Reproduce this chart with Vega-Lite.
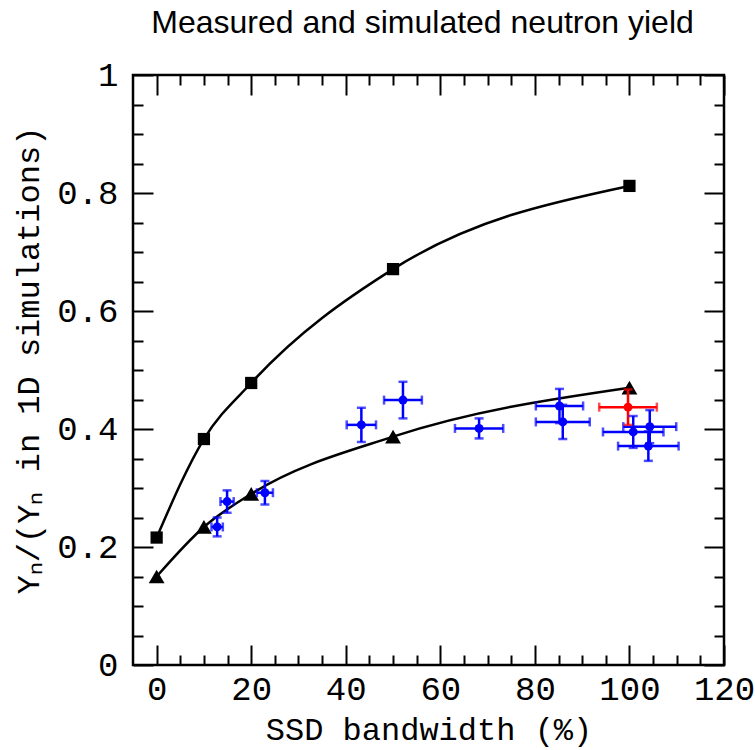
{
  "$schema": "https://vega.github.io/schema/vega-lite/v6.json",
  "width": 591,
  "height": 590,
  "autosize": {"type": "none"},
  "padding": {"left": 133, "top": 75, "right": 31, "bottom": 85},
  "title": {"text": "Measured and simulated neutron yield", "font": "Liberation Sans", "fontSize": 32, "fontWeight": "normal", "color": "black", "anchor": "middle", "offset": 18, "dx": -6},
  "config": {
    "view": {"stroke": "black", "strokeWidth": 2.5},
    "axis": {"domain": false, "grid": false, "tickColor": "black", "tickWidth": 2, "labelColor": "black", "labelFont": "Liberation Mono", "labelFontSize": 34, "titleFont": "Liberation Mono", "titleFontSize": 32, "titleFontWeight": "normal", "titleColor": "black", "labelFlush": false, "labelOverlap": false}
  },
  "datasets": {
    "sims": [
      {"model": "sq", "x": 0, "y": 0.216},
      {"model": "sq", "x": 10, "y": 0.383},
      {"model": "sq", "x": 20, "y": 0.478},
      {"model": "sq", "x": 50, "y": 0.671},
      {"model": "sq", "x": 100, "y": 0.812},
      {"model": "tri", "x": 0, "y": 0.150},
      {"model": "tri", "x": 10, "y": 0.234},
      {"model": "tri", "x": 20, "y": 0.290},
      {"model": "tri", "x": 50, "y": 0.387},
      {"model": "tri", "x": 100, "y": 0.470}
    ],
    "meas": [
      {"series": "blue", "x": 12.8, "y": 0.234, "xlo": 11.6, "xhi": 14.0, "ylo": 0.218, "yhi": 0.250},
      {"series": "blue", "x": 14.9, "y": 0.277, "xlo": 13.5, "xhi": 16.3, "ylo": 0.258, "yhi": 0.296},
      {"series": "blue", "x": 22.9, "y": 0.292, "xlo": 21.2, "xhi": 24.6, "ylo": 0.272, "yhi": 0.312},
      {"series": "blue", "x": 43.3, "y": 0.407, "xlo": 40.2, "xhi": 46.4, "ylo": 0.378, "yhi": 0.436},
      {"series": "blue", "x": 52.1, "y": 0.449, "xlo": 48.1, "xhi": 56.1, "ylo": 0.418, "yhi": 0.480},
      {"series": "blue", "x": 68.2, "y": 0.401, "xlo": 63.1, "xhi": 73.3, "ylo": 0.384, "yhi": 0.418},
      {"series": "blue", "x": 85.2, "y": 0.439, "xlo": 80.2, "xhi": 90.2, "ylo": 0.410, "yhi": 0.468},
      {"series": "blue", "x": 85.9, "y": 0.412, "xlo": 80.2, "xhi": 91.6, "ylo": 0.383, "yhi": 0.441},
      {"series": "blue", "x": 100.8, "y": 0.395, "xlo": 94.4, "xhi": 107.2, "ylo": 0.368, "yhi": 0.422},
      {"series": "blue", "x": 104.3, "y": 0.404, "xlo": 98.7, "xhi": 109.9, "ylo": 0.376, "yhi": 0.432},
      {"series": "blue", "x": 104.0, "y": 0.371, "xlo": 97.6, "xhi": 110.4, "ylo": 0.346, "yhi": 0.396},
      {"series": "red", "x": 99.7, "y": 0.437, "xlo": 93.6, "xhi": 105.8, "ylo": 0.407, "yhi": 0.467}
    ]
  },
  "resolve": {"axis": {"x": "independent", "y": "independent"}},
  "layer": [
    {
      "data": {"name": "sims"},
      "mark": {"type": "line", "interpolate": "monotone", "color": "black", "strokeWidth": 2.5},
      "encoding": {
        "x": {"field": "x", "type": "quantitative", "scale": {"domain": [-5, 120], "nice": false, "zero": false},
          "axis": {"orient": "bottom", "title": "SSD bandwidth (%)", "values": [0,5,10,15,20,25,30,35,40,45,50,55,60,65,70,75,80,85,90,95,100,105,110,115,120],
            "labelExpr": "datum.value % 20 === 0 ? datum.label : ''",
            "tickSize": {"condition": {"test": "datum.value % 20 === 0", "value": -20}, "value": -10},
            "labelPadding": 27, "titlePadding": -2}},
        "y": {"field": "y", "type": "quantitative", "scale": {"domain": [0, 1], "nice": false, "zero": false},
          "axis": {"orient": "left", "title": "Yₙ/(Yₙ in 1D simulations)", "values": [0,0.05,0.1,0.15,0.2,0.25,0.3,0.35,0.4,0.45,0.5,0.55,0.6,0.65,0.7,0.75,0.8,0.85,0.9,0.95,1],
            "labelExpr": "round(datum.value*100) % 20 === 0 ? (round(datum.value*10)/10 + '') : ''",
            "tickSize": {"condition": {"test": "round(datum.value*100) % 20 === 0", "value": -20}, "value": -10},
            "labelPadding": 35, "titlePadding": 11, "titleY": 285}},
        "detail": {"field": "model"}
      }
    },
    {
      "data": {"name": "sims"},
      "mark": {"type": "point", "filled": true, "opacity": 1, "color": "black"},
      "encoding": {
        "x": {"field": "x", "type": "quantitative", "scale": {"domain": [-5, 120], "nice": false, "zero": false},
          "axis": {"orient": "top", "title": null, "labels": false, "values": [0,5,10,15,20,25,30,35,40,45,50,55,60,65,70,75,80,85,90,95,100,105,110,115,120],
            "tickSize": {"condition": {"test": "datum.value % 20 === 0", "value": -20}, "value": -10}}},
        "y": {"field": "y", "type": "quantitative", "scale": {"domain": [0, 1], "nice": false, "zero": false},
          "axis": {"orient": "right", "title": null, "labels": false, "values": [0,0.05,0.1,0.15,0.2,0.25,0.3,0.35,0.4,0.45,0.5,0.55,0.6,0.65,0.7,0.75,0.8,0.85,0.9,0.95,1],
            "tickSize": {"condition": {"test": "round(datum.value*100) % 20 === 0", "value": -20}, "value": -10}}},
        "shape": {"field": "model", "type": "nominal", "scale": {"domain": ["sq", "tri"], "range": ["square", "triangle-up"]}, "legend": null},
        "size": {"field": "model", "type": "ordinal", "scale": {"domain": ["sq", "tri"], "range": [150, 250]}, "legend": null}
      }
    },
    {
      "data": {"name": "meas"},
      "mark": {"type": "rule", "strokeWidth": 2.5},
      "encoding": {
        "x": {"field": "xlo", "type": "quantitative", "scale": {"domain": [-5, 120], "nice": false, "zero": false}, "axis": null},
        "x2": {"field": "xhi"},
        "y": {"field": "y", "type": "quantitative", "scale": {"domain": [0, 1], "nice": false, "zero": false}, "axis": null},
        "color": {"field": "series", "type": "nominal", "scale": {"domain": ["blue", "red"], "range": ["#0000ff", "#ff0000"]}, "legend": null}
      }
    },
    {
      "data": {"name": "meas"},
      "mark": {"type": "rule", "strokeWidth": 2.5},
      "encoding": {
        "x": {"field": "x", "type": "quantitative", "scale": {"domain": [-5, 120], "nice": false, "zero": false}, "axis": null},
        "y": {"field": "ylo", "type": "quantitative", "scale": {"domain": [0, 1], "nice": false, "zero": false}, "axis": null},
        "y2": {"field": "yhi"},
        "color": {"field": "series", "type": "nominal", "scale": {"domain": ["blue", "red"], "range": ["#0000ff", "#ff0000"]}, "legend": null}
      }
    },
    {
      "data": {"name": "meas"},
      "mark": {"type": "tick", "orient": "vertical", "size": 9, "thickness": 2.5},
      "encoding": {
        "x": {"field": "xlo", "type": "quantitative", "scale": {"domain": [-5, 120], "nice": false, "zero": false}, "axis": null},
        "y": {"field": "y", "type": "quantitative", "scale": {"domain": [0, 1], "nice": false, "zero": false}, "axis": null},
        "color": {"field": "series", "type": "nominal", "scale": {"domain": ["blue", "red"], "range": ["#0000ff", "#ff0000"]}, "legend": null}
      }
    },
    {
      "data": {"name": "meas"},
      "mark": {"type": "tick", "orient": "vertical", "size": 9, "thickness": 2.5},
      "encoding": {
        "x": {"field": "xhi", "type": "quantitative", "scale": {"domain": [-5, 120], "nice": false, "zero": false}, "axis": null},
        "y": {"field": "y", "type": "quantitative", "scale": {"domain": [0, 1], "nice": false, "zero": false}, "axis": null},
        "color": {"field": "series", "type": "nominal", "scale": {"domain": ["blue", "red"], "range": ["#0000ff", "#ff0000"]}, "legend": null}
      }
    },
    {
      "data": {"name": "meas"},
      "mark": {"type": "tick", "orient": "horizontal", "size": 9, "thickness": 2.5},
      "encoding": {
        "x": {"field": "x", "type": "quantitative", "scale": {"domain": [-5, 120], "nice": false, "zero": false}, "axis": null},
        "y": {"field": "ylo", "type": "quantitative", "scale": {"domain": [0, 1], "nice": false, "zero": false}, "axis": null},
        "color": {"field": "series", "type": "nominal", "scale": {"domain": ["blue", "red"], "range": ["#0000ff", "#ff0000"]}, "legend": null}
      }
    },
    {
      "data": {"name": "meas"},
      "mark": {"type": "tick", "orient": "horizontal", "size": 9, "thickness": 2.5},
      "encoding": {
        "x": {"field": "x", "type": "quantitative", "scale": {"domain": [-5, 120], "nice": false, "zero": false}, "axis": null},
        "y": {"field": "yhi", "type": "quantitative", "scale": {"domain": [0, 1], "nice": false, "zero": false}, "axis": null},
        "color": {"field": "series", "type": "nominal", "scale": {"domain": ["blue", "red"], "range": ["#0000ff", "#ff0000"]}, "legend": null}
      }
    },
    {
      "data": {"name": "meas"},
      "mark": {"type": "circle", "size": 80, "opacity": 1},
      "encoding": {
        "x": {"field": "x", "type": "quantitative", "scale": {"domain": [-5, 120], "nice": false, "zero": false}, "axis": null},
        "y": {"field": "y", "type": "quantitative", "scale": {"domain": [0, 1], "nice": false, "zero": false}, "axis": null},
        "color": {"field": "series", "type": "nominal", "scale": {"domain": ["blue", "red"], "range": ["#0000ff", "#ff0000"]}, "legend": null}
      }
    }
  ]
}
